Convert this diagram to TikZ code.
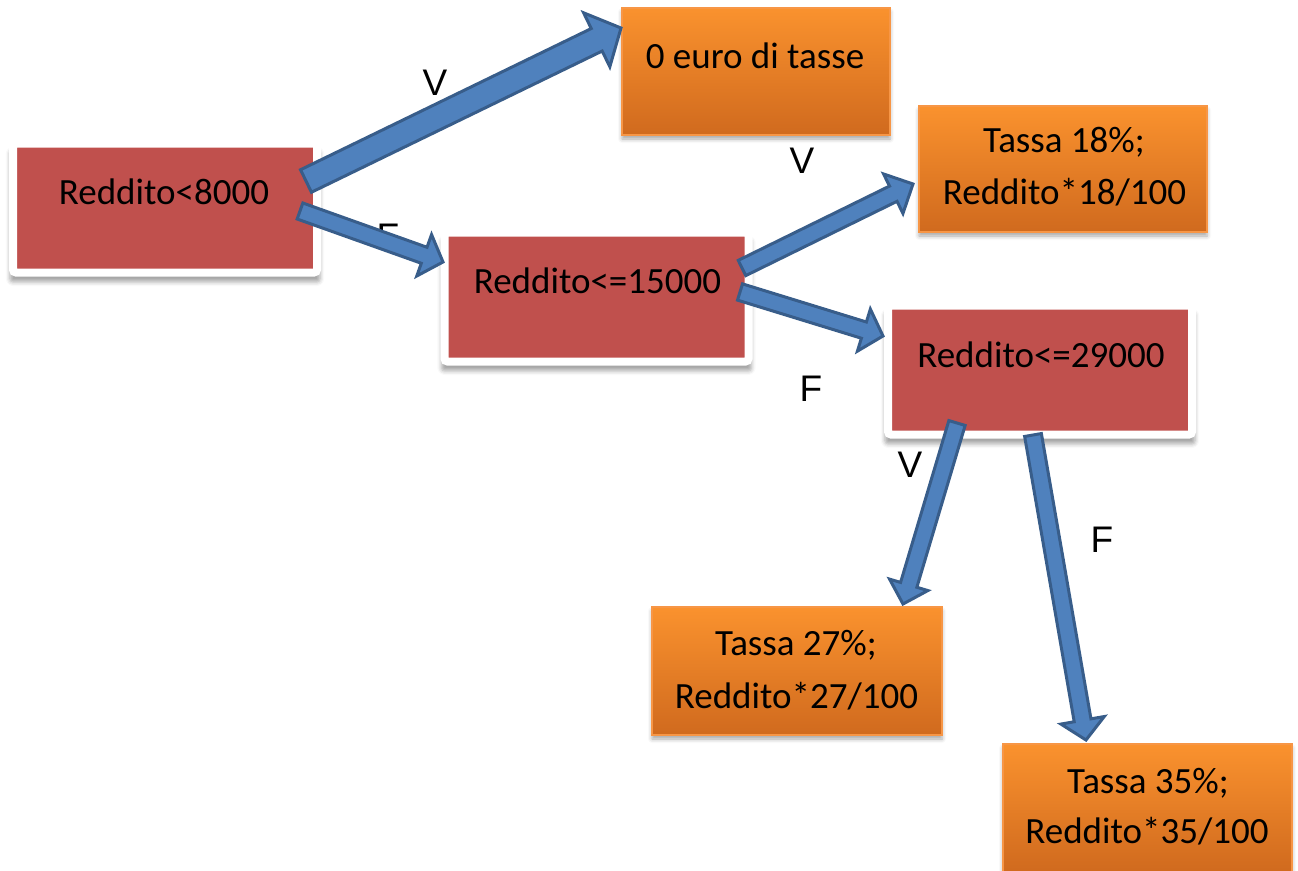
\documentclass[tikz,border=0pt]{standalone}
\usepackage{fontspec}
\setmainfont{Carlito}
\newfontfamily\labfont{Liberation Sans}
\usetikzlibrary{calc,shadows.blur}
\definecolor{redc}{RGB}{192,80,77}
\definecolor{ortop}{RGB}{250,146,46}
\definecolor{ormid}{RGB}{240,134,40}
\definecolor{orbot}{RGB}{208,106,30}
\definecolor{orline}{RGB}{247,150,70}
\definecolor{bluefill}{RGB}{79,129,189}
\definecolor{blueline}{RGB}{56,93,138}
\newcommand\blockarrow[5]{%
  \coordinate (#1h) at ($(#2)!#5!(#1)$);
  \draw[blockar] ($(#1)!#3!90:(#2)$) -- ($(#1h)!#3!90:(#2)$) -- ($(#1h)!#4!90:(#2)$) -- (#2)
    -- ($(#1h)!#4!-90:(#2)$) -- ($(#1h)!#3!-90:(#2)$) -- ($(#1)!#3!-90:(#2)$) -- cycle;}
\begin{document}
\begin{tikzpicture}[x=1pt,y=-1pt,
  redbox/.style={draw=white, line width=8pt, fill=redc, rounded corners=3pt,
    minimum width=304pt, minimum height=129pt, inner sep=0pt,
    blur shadow={shadow xshift=0pt, shadow yshift=-8pt, shadow scale=1.02,
      shadow blur radius=4pt, shadow opacity=35}},
  orbox/.style={draw=orline, line width=2pt, top color=ortop, middle color=ormid,
    bottom color=orbot, inner sep=0pt,
    blur shadow={shadow xshift=0pt, shadow yshift=-4pt,
      shadow blur radius=4pt, shadow opacity=35}},
  boxtxt/.style={anchor=base, inner sep=0pt, font=\fontsize{37}{44}\selectfont},
  lab/.style={anchor=base, inner sep=0pt, font=\labfont\fontsize{37}{44}\selectfont},
  blockar/.style={fill=bluefill, draw=blueline, line width=3pt, line join=miter}]
\useasboundingbox (0,0) rectangle (1298,870);
% boxes
\node[redbox] (r1) at (165,208) {};
\node[redbox] (r2) at (596.5,297) {};
\node[redbox] (r3) at (1040,370) {};
\node[orbox, minimum width=268pt, minimum height=127pt] (o1) at (756,71.5) {};
\node[orbox, minimum width=288pt, minimum height=126pt] (o2) at (1063,169) {};
\node[orbox, minimum width=290pt, minimum height=128pt] (o3) at (797,671) {};
\node[orbox, minimum width=289pt, minimum height=128pt] (o4) at (1147.5,808) {};
% texts
\node[boxtxt] (t1) at (164,204) {Reddito<8000};
\node[boxtxt] (t2) at (597.5,293) {Reddito<=15000};
\node[boxtxt] (t3) at (1041,367) {Reddito<=29000};
\node[boxtxt] (t4) at (755,68) {0 euro di tasse};
\node[boxtxt] (t5a) at (1064,152) {Tassa 18\%;};
\node[boxtxt] (t5b) at (1064.5,204) {Reddito*18/100};
\node[boxtxt] (t6a) at (796,655) {Tassa 27\%;};
\node[boxtxt] (t6b) at (796.5,708) {Reddito*27/100};
\node[boxtxt] (t7a) at (1148,793) {Tassa 35\%;};
\node[boxtxt] (t7b) at (1147,843) {Reddito*35/100};
% labels
\node[lab] (l1) at (435,95) {V};
\node[lab] (l2) at (388,249) {F};
\node[lab] (l3) at (802,173) {V};
\node[lab] (l4) at (811,401) {F};
\node[lab] (l5) at (910,477) {V};
\node[lab] (l6) at (1102,552) {F};
% arrows
\coordinate (a1) at (306,181); \coordinate (b1) at (621,28);
\coordinate (a2) at (300,211); \coordinate (b2) at (443,262);
\coordinate (a3) at (742,268); \coordinate (b3) at (913,184);
\coordinate (a4) at (740,292); \coordinate (b4) at (883,336);
\coordinate (a5) at (957,423); \coordinate (b5) at (903,604);
\coordinate (a6) at (1033,435); \coordinate (b6) at (1086,740);
\blockarrow{a1}{b1}{12.5pt}{30pt}{27pt}
\blockarrow{a2}{b2}{8.5pt}{22pt}{20pt}
\blockarrow{a3}{b3}{8.5pt}{22pt}{22pt}
\blockarrow{a4}{b4}{8.5pt}{22pt}{20pt}
\blockarrow{a5}{b5}{8.5pt}{20pt}{20pt}
\blockarrow{a6}{b6}{8.5pt}{22pt}{20pt}
\end{tikzpicture}
\end{document}
